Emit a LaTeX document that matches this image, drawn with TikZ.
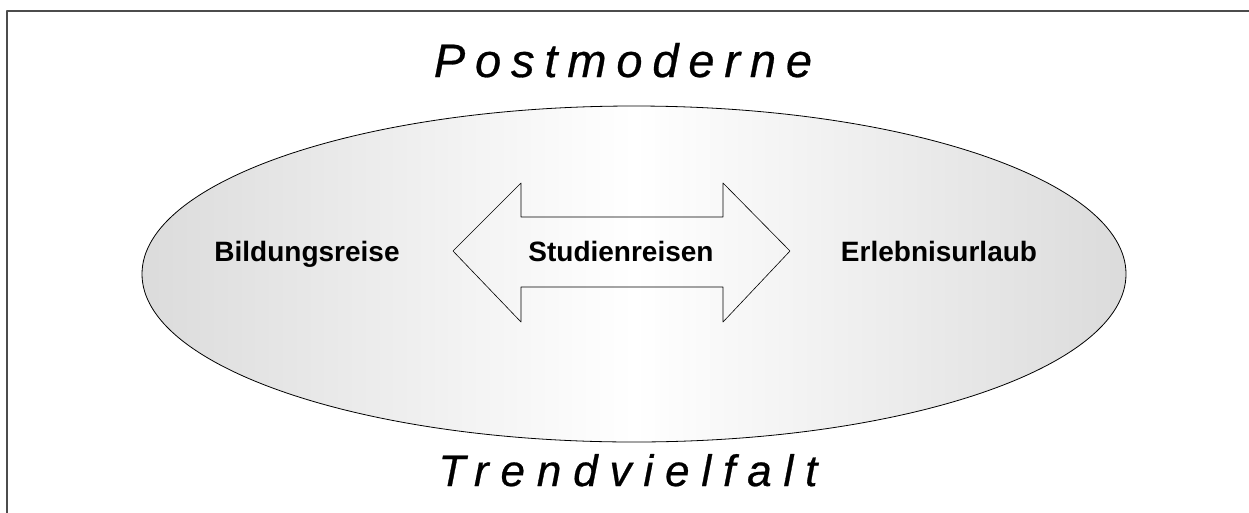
\documentclass[tikz,border=0pt]{standalone}
\usepackage{fontspec}
\setmainfont{Liberation Sans}
\newfontfamily\postfont[LetterSpace=21,FakeBold=0.6]{Liberation Sans}
\newfontfamily\trendfont[LetterSpace=27,FakeBold=0.6]{Liberation Sans}
\usetikzlibrary{shapes.geometric}
\begin{document}
\begin{tikzpicture}[x=1pt,y=-1pt, line join=round, line cap=round,
  label/.style={font=\fontsize{28}{32}\selectfont\bfseries, inner sep=0pt, anchor=base}]
  \def\cx{634} \def\cy{274} % Mittelpunkt der Ellipse
  \useasboundingbox (0,0) rectangle (1249,512);
  \draw[line width=2pt, black!70] (7,11) rectangle (1270,540);
  \node[ellipse, draw, line width=0.8pt, minimum width=984pt, minimum height=336pt,
    left color=gray!28, right color=gray!28, middle color=white] (oval) at (\cx,\cy) {};
  \node[label] (studien) at (621,261) {Studienreisen};
  \draw[line width=0.6pt] (453,251)--(521,183)--(521,217)--(723,217)--(723,183)--(790,251)
    --(723,322)--(723,287)--(521,287)--(521,322)--cycle;
  \node[label] (bildung) at (307,261) {Bildungsreise};
  \node[label] (erlebnis) at (939,261) {Erlebnisurlaub};
  \node[inner sep=0pt, anchor=base] (post) at (623,77)
    {\fontsize{47}{52}\selectfont\postfont\itshape Postmoderne};
  \node[inner sep=0pt, anchor=base] (trend) at (628,486)
    {\fontsize{44}{50}\selectfont\trendfont\itshape Trendvielfalt};
\end{tikzpicture}
\end{document}
